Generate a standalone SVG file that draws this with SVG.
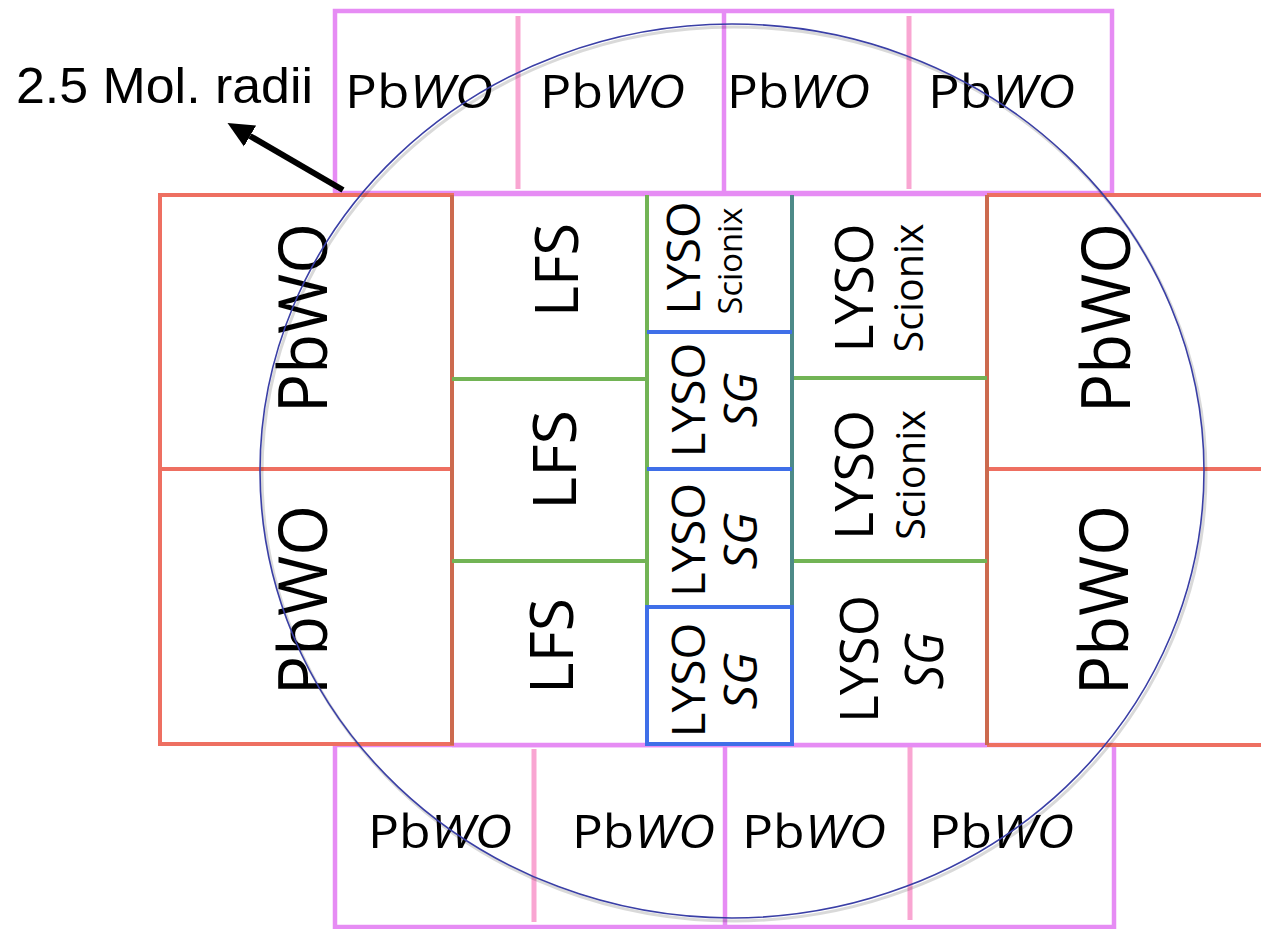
<svg xmlns="http://www.w3.org/2000/svg" width="1261" height="929" viewBox="0 0 1261 929">
<style>
.mag{stroke:#e68cf4;stroke-width:4.5;fill:none}
.pink{stroke:#f9a6d2;stroke-width:5;fill:none}
.red{stroke:#ee6f61;stroke-width:4;fill:none}
.dred{stroke:#cc6a4e;stroke-width:4;fill:none}
.grn{stroke:#72b455;stroke-width:4;fill:none}
.teal{stroke:#4d8a88;stroke-width:4;fill:none}
.blu{stroke:#3f6fe8;stroke-width:4;fill:none}
text{font-family:"Open Sans","DejaVu Sans",sans-serif;fill:#000;font-weight:500}
.lbl{font-size:45px}
.big{font-size:68px}
.lfs{font-size:60px}
.ly{font-size:46px}
.ly2{font-size:53px}
.sc{font-size:33px}
.sc2{font-size:40px}
.note{font-family:"Liberation Sans",Arial,sans-serif;font-size:50px;font-weight:400}
</style>
<defs>
<marker id="ah" viewBox="0 -13 27 26" markerWidth="27" markerHeight="26" refX="0" refY="0" orient="auto" markerUnits="userSpaceOnUse">
<path d="M0,-12 L26,0 L0,12 z" fill="#000"/>
</marker>
</defs>
<rect width="1261" height="929" fill="#fff"/>

<g id="grid">
<rect x="335" y="11" width="777" height="182" fill="#fff" class="mag"/>
<line x1="518" y1="16" x2="518" y2="189" class="pink"/>
<line x1="724" y1="11" x2="724" y2="193" class="mag"/>
<line x1="909" y1="16" x2="909" y2="189" class="pink"/>
<rect x="335" y="745" width="779" height="182" fill="#fff" class="mag"/>
<line x1="534" y1="749" x2="534" y2="922" class="pink"/>
<line x1="725" y1="745" x2="725" y2="927" class="mag"/>
<line x1="910" y1="745" x2="910" y2="920" class="pink"/>
<rect x="452" y="195" width="535" height="549" fill="#fff"/>
<line x1="452" y1="194" x2="987" y2="194" class="mag"/>
<line x1="452" y1="745" x2="987" y2="745" class="mag"/>
<rect x="160" y="195" width="292" height="549" fill="#fff" class="red"/>
<line x1="160" y1="469" x2="452" y2="469" class="red"/>
<line x1="987" y1="195" x2="1265" y2="195" class="red"/>
<line x1="987" y1="469" x2="1265" y2="469" class="red"/>
<line x1="987" y1="745" x2="1265" y2="745" class="red"/>
<line x1="452" y1="195" x2="452" y2="745" class="dred"/>
<line x1="987" y1="195" x2="987" y2="745" class="dred"/>
<line x1="452" y1="379" x2="647" y2="379" class="grn"/>
<line x1="452" y1="561" x2="647" y2="561" class="grn"/>
<line x1="792" y1="378" x2="987" y2="378" class="grn"/>
<line x1="792" y1="561" x2="987" y2="561" class="grn"/>
<line x1="647" y1="195" x2="647" y2="607" class="grn"/>
<line x1="792" y1="195" x2="792" y2="607" class="teal"/>
<line x1="647" y1="332" x2="792" y2="332" class="blu"/>
<line x1="647" y1="469" x2="792" y2="469" class="blu"/>
<rect x="647" y="607" width="145" height="137" class="blu"/>
</g>

<g id="top-pbwo-1"><text class="lbl" x="345" y="108" textLength="148" lengthAdjust="spacingAndGlyphs">Pb<tspan font-style="italic">WO</tspan></text></g>
<g id="top-pbwo-2"><text class="lbl" x="540" y="108" textLength="145" lengthAdjust="spacingAndGlyphs">Pb<tspan font-style="italic">WO</tspan></text></g>
<g id="top-pbwo-3"><text class="lbl" x="727" y="108" textLength="143" lengthAdjust="spacingAndGlyphs">Pb<tspan font-style="italic">WO</tspan></text></g>
<g id="top-pbwo-4"><text class="lbl" x="928" y="108" textLength="147" lengthAdjust="spacingAndGlyphs">Pb<tspan font-style="italic">WO</tspan></text></g>

<g id="bot-pbwo-1"><text class="lbl" x="368" y="848" textLength="144" lengthAdjust="spacingAndGlyphs">Pb<tspan font-style="italic">WO</tspan></text></g>
<g id="bot-pbwo-2"><text class="lbl" x="572" y="848" textLength="143" lengthAdjust="spacingAndGlyphs">Pb<tspan font-style="italic">WO</tspan></text></g>
<g id="bot-pbwo-3"><text class="lbl" x="742" y="848" textLength="144" lengthAdjust="spacingAndGlyphs">Pb<tspan font-style="italic">WO</tspan></text></g>
<g id="bot-pbwo-4"><text class="lbl" x="929" y="848" textLength="145" lengthAdjust="spacingAndGlyphs">Pb<tspan font-style="italic">WO</tspan></text></g>

<g id="left-pbwo-1"><text class="big" transform="translate(327,318) rotate(-90)" text-anchor="middle" textLength="190" lengthAdjust="spacingAndGlyphs">PbWO</text></g>
<g id="left-pbwo-2"><text class="big" transform="translate(327,600) rotate(-90)" text-anchor="middle" textLength="190" lengthAdjust="spacingAndGlyphs">PbWO</text></g>
<g id="right-pbwo-1"><text class="big" transform="translate(1130,318) rotate(-90)" text-anchor="middle" textLength="190" lengthAdjust="spacingAndGlyphs">PbWO</text></g>
<g id="right-pbwo-2"><text class="big" transform="translate(1128,600) rotate(-90)" text-anchor="middle" textLength="190" lengthAdjust="spacingAndGlyphs">PbWO</text></g>

<g id="lfs-1"><text class="lfs" transform="translate(578,270) rotate(-90)" text-anchor="middle" textLength="94" lengthAdjust="spacingAndGlyphs">LFS</text></g>
<g id="lfs-2"><text class="lfs" transform="translate(576,460) rotate(-90)" text-anchor="middle" textLength="100" lengthAdjust="spacingAndGlyphs">LFS</text></g>
<g id="lfs-3"><text class="lfs" transform="translate(573,646) rotate(-90)" text-anchor="middle" textLength="96" lengthAdjust="spacingAndGlyphs">LFS</text></g>

<g id="lyso-c1">
<text class="ly" transform="translate(700,258) rotate(-90)" text-anchor="middle" textLength="113" lengthAdjust="spacingAndGlyphs">LYSO</text>
<text class="sc" transform="translate(742,261) rotate(-90)" text-anchor="middle" textLength="107" lengthAdjust="spacingAndGlyphs">Scionix</text>
</g>
<g id="lyso-c2">
<text class="ly" transform="translate(705,400) rotate(-90)" text-anchor="middle" textLength="115" lengthAdjust="spacingAndGlyphs">LYSO</text>
<text class="ly" font-style="italic" transform="translate(757,400) rotate(-90)" text-anchor="middle" textLength="55" lengthAdjust="spacingAndGlyphs">SG</text>
</g>
<g id="lyso-c3">
<text class="ly" transform="translate(705,540) rotate(-90)" text-anchor="middle" textLength="114" lengthAdjust="spacingAndGlyphs">LYSO</text>
<text class="ly" font-style="italic" transform="translate(757,541) rotate(-90)" text-anchor="middle" textLength="57" lengthAdjust="spacingAndGlyphs">SG</text>
</g>
<g id="lyso-c4">
<text class="ly" transform="translate(705,680) rotate(-90)" text-anchor="middle" textLength="115" lengthAdjust="spacingAndGlyphs">LYSO</text>
<text class="ly" font-style="italic" transform="translate(757,681) rotate(-90)" text-anchor="middle" textLength="57" lengthAdjust="spacingAndGlyphs">SG</text>
</g>

<g id="lyso-r1">
<text class="ly2" transform="translate(873,288) rotate(-90)" text-anchor="middle" textLength="129" lengthAdjust="spacingAndGlyphs">LYSO</text>
<text class="sc2" transform="translate(923,288) rotate(-90)" text-anchor="middle" textLength="129" lengthAdjust="spacingAndGlyphs">Scionix</text>
</g>
<g id="lyso-r2">
<text class="ly2" transform="translate(873,475) rotate(-90)" text-anchor="middle" textLength="130" lengthAdjust="spacingAndGlyphs">LYSO</text>
<text class="sc2" transform="translate(925,475) rotate(-90)" text-anchor="middle" textLength="130" lengthAdjust="spacingAndGlyphs">Scionix</text>
</g>
<g id="lyso-r3">
<text class="ly2" transform="translate(878,659) rotate(-90)" text-anchor="middle" textLength="128" lengthAdjust="spacingAndGlyphs">LYSO</text>
<text class="ly2" font-style="italic" transform="translate(943,661) rotate(-90)" text-anchor="middle" textLength="57" lengthAdjust="spacingAndGlyphs">SG</text>
</g>

<g id="radius-circle">
<ellipse cx="734" cy="474" rx="472" ry="447" fill="none" stroke="#000" stroke-opacity="0.15" stroke-width="3"/>
<ellipse cx="732" cy="471" rx="472" ry="447" fill="none" stroke="#3a3fa6" stroke-width="1.6"/>
</g>

<g id="label-radii"><text class="note" x="16" y="103" textLength="297" lengthAdjust="spacingAndGlyphs">2.5 Mol. radii</text></g>

<g id="connectors">
<line x1="343" y1="190" x2="250" y2="136" stroke="#000" stroke-width="6" marker-end="url(#ah)"/>
</g>
</svg>
